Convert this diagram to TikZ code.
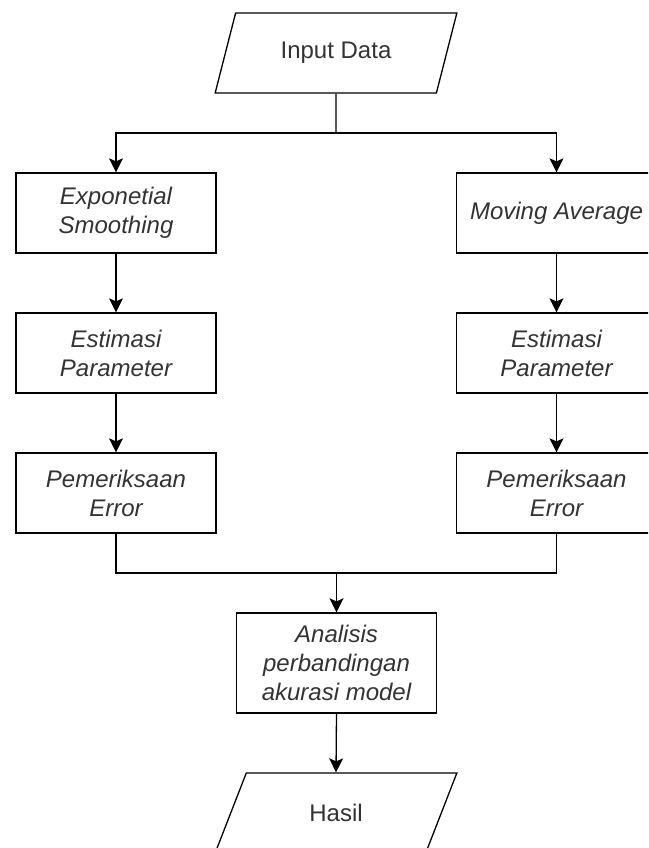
\documentclass[tikz,border=0pt]{standalone}
\usepackage{fontspec}
\setmainfont{Liberation Sans}
\usetikzlibrary{shapes.geometric,arrows.meta}
\begin{document}
\begin{tikzpicture}[x=1pt,y=-1pt,
  line width=1.3pt,
  every node/.style={font=\fontsize{24}{29}\selectfont, text=black!80, align=center},
  procbox/.style={draw=black, line width=1.3pt, minimum width=200pt, minimum height=80pt, inner sep=0pt, font=\fontsize{24}{29}\selectfont\itshape},
  iobox/.style={draw=black, line width=1.3pt, trapezium, trapezium left angle=62.3, trapezium right angle=117.7, trapezium stretches=true, minimum width=242pt, minimum height=80pt, inner sep=0pt},
  arr/.style={-{Stealth[length=14pt,width=14pt,inset=3pt]}}
]
\useasboundingbox (0,0) rectangle (648,848);
\clip (0,0) rectangle (648,848);
\node[iobox] (in) at (336,53) {Input Data};
\node[procbox] (exp) at (116,213) {Exponetial\\Smoothing};
\node[procbox] (est1) at (116,353) {Estimasi\\Parameter};
\node[procbox] (err1) at (116,493) {Pemeriksaan\\Error};
\node[procbox] (ma) at (556.5,213) {Moving Average};
\node[procbox] (est2) at (556.5,353) {Estimasi\\Parameter};
\node[procbox] (err2) at (556.5,493) {Pemeriksaan\\Error};
\node[procbox, minimum height=100pt] (an) at (336.5,663) {Analisis\\perbandingan\\akurasi model};
\node[iobox] (has) at (336,813) {Hasil};
\coordinate (split) at (336,133);
\coordinate (merge) at (336.5,573);
\draw (in.south) -- (split);
\draw[arr] (split) -| (exp.north);
\draw[arr] (split) -| (ma.north);
\draw[arr] (exp.south) -- (est1.north);
\draw[arr] (est1.south) -- (err1.north);
\draw[arr] (ma.south) -- (est2.north);
\draw[arr] (est2.south) -- (err2.north);
\draw (err1.south) |- (merge);
\draw (err2.south) |- (merge);
\draw[arr, line width=1.8pt] (merge) -- (an.north);
\draw[arr] (an.south) -- (has.north);
\end{tikzpicture}
\end{document}
